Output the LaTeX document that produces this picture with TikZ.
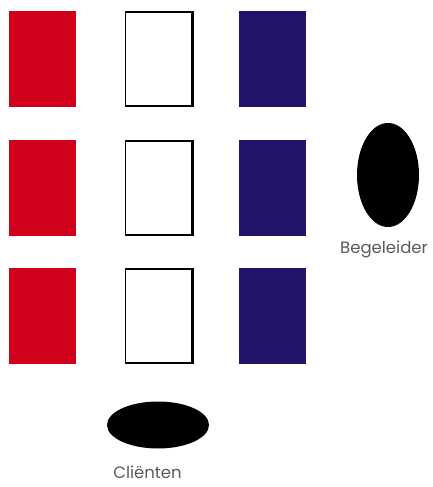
\documentclass[tikz,border=0pt]{standalone}
\usepackage{fontspec}
\setmainfont{Poppins}
\definecolor{seatred}{HTML}{D0021B}
\definecolor{seatblue}{HTML}{22146A}
\definecolor{labelgray}{HTML}{5A5A5A}
\usepackage{tikz}
\usetikzlibrary{positioning, shapes.geometric}

\begin{document}
\begin{tikzpicture}[x=1pt, y=-1pt,
    seat/.style={rectangle, minimum width=67pt, minimum height=96pt, inner sep=0pt},
    person/.style={ellipse, fill=black, inner sep=0pt},
    caption/.style={font=\fontsize{16.5}{18}\selectfont, text=labelgray, inner sep=0pt, anchor=base}]
    \useasboundingbox (0,0) rectangle (433,487);
    % three rows of seats
    \foreach \r/\y in {1/59, 2/188, 3/316} {
      \node[seat, fill=seatred] (red\r) at (42,\y) {};
      \node[seat, draw=black, line width=1.5pt, minimum width=66pt, minimum height=94pt] (white\r) at (158.5,\y) {};
      \draw[line width=3pt] (white\r.north east) -- (white\r.south east);
      \node[seat, fill=seatblue] (blue\r) at (272,\y) {};
    }
    \node[person, minimum width=62pt, minimum height=104pt] (begeleider) at (388,175) {};
    \node[caption] (begeleiderlabel) at ([xshift=-4pt, yshift=-26pt]begeleider.south) {Begeleider};
    \node[person, minimum width=102pt, minimum height=47pt] (clienten) at (158,425) {};
    \node[caption] (clientenlabel) at ([xshift=-10.5pt, yshift=-30pt]clienten.south) {Cliënten};
\end{tikzpicture}
\end{document}
